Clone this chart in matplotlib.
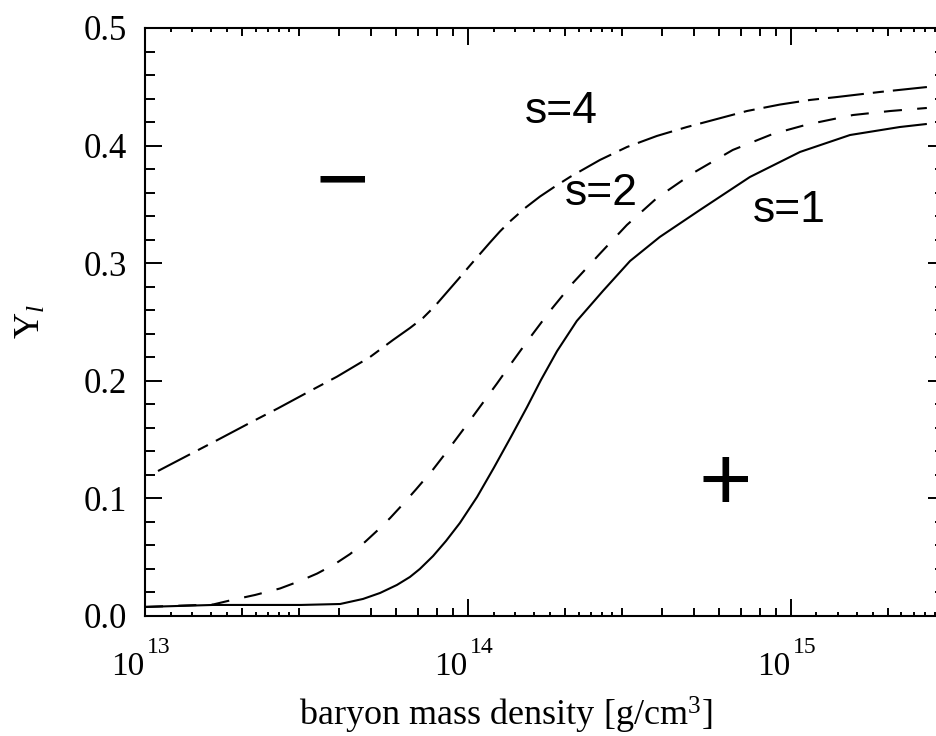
import matplotlib
matplotlib.use("Agg")
import matplotlib.pyplot as plt
from matplotlib.ticker import FixedLocator, NullFormatter, NullLocator
from matplotlib.transforms import blended_transform_factory, offset_copy

# ---------------- data ----------------
rho_s1 = [1.000e13, 1.626e13, 2.270e13, 3.041e13, 4.018e13, 4.732e13, 5.346e13,
          6.026e13, 6.613e13, 7.096e13, 7.798e13, 8.551e13, 9.441e13, 1.067e14,
          1.202e14, 1.358e14, 1.524e14, 1.683e14, 1.888e14, 2.173e14, 2.618e14,
          3.177e14, 3.926e14, 5.224e14, 7.464e14, 1.067e15, 1.524e15, 2.173e15,
          2.636e15]
Y_s1 = [0.0077, 0.0094, 0.0094, 0.0094, 0.0102, 0.0145, 0.0196,
        0.0264, 0.0332, 0.0400, 0.0510, 0.0638, 0.0791, 0.1012,
        0.1259, 0.1522, 0.1777, 0.2007, 0.2253, 0.2509, 0.2764,
        0.3019, 0.3223, 0.3452, 0.3733, 0.3946, 0.4090, 0.4158,
        0.4184]

rho_s2 = [1.000e13, 1.626e13, 1.858e13, 2.193e13, 2.618e13, 3.020e13, 3.412e13,
          3.873e13, 4.315e13, 4.797e13, 5.224e13, 5.741e13, 6.295e13, 6.902e13,
          7.798e13, 8.492e13, 9.247e13, 9.931e13, 1.074e14, 1.230e14, 1.368e14,
          1.524e14, 1.795e14, 2.113e14, 2.564e14, 3.105e14, 3.846e14, 4.977e14,
          6.607e14, 8.790e14, 1.122e15, 1.556e15, 2.028e15, 2.636e15]
Y_s2 = [0.0077, 0.0098, 0.0136, 0.0179, 0.0234, 0.0298, 0.0361,
        0.0442, 0.0527, 0.0629, 0.0723, 0.0833, 0.0952, 0.1076,
        0.1246, 0.1378, 0.1514, 0.1628, 0.1756, 0.1977, 0.2156,
        0.2334, 0.2594, 0.2832, 0.3082, 0.3325, 0.3554, 0.3767,
        0.3963, 0.4099, 0.4179, 0.4260, 0.4294, 0.4320]

rho_s4 = [1.097e13, 1.398e13, 1.683e13, 2.145e13, 2.581e13, 3.289e13, 3.930e13,
          4.973e13, 5.860e13, 6.613e13, 7.256e13, 7.904e13, 8.489e13, 9.312e13,
          1.014e14, 1.089e14, 1.170e14, 1.256e14, 1.349e14, 1.502e14, 1.671e14,
          1.859e14, 2.069e14, 2.563e14, 3.107e14, 3.846e14, 4.764e14, 5.900e14,
          7.307e14, 9.246e14, 1.145e15, 1.388e15, 1.886e15, 2.637e15]
Y_s4 = [0.1233, 0.1384, 0.1499, 0.1652, 0.1766, 0.1922, 0.2035,
        0.2202, 0.2347, 0.2449, 0.2534, 0.2636, 0.2734, 0.2861,
        0.2980, 0.3078, 0.3176, 0.3270, 0.3355, 0.3469, 0.3567,
        0.3652, 0.3733, 0.3878, 0.3988, 0.4082, 0.4158, 0.4226,
        0.4294, 0.4349, 0.4388, 0.4413, 0.4456, 0.4498]

curve_labels = ["s=1", "s=2", "s=4"]
x_major = [1e13, 1e14, 1e15]
x_major_exponents = ["13", "14", "15"]
y_major = [0.0, 0.1, 0.2, 0.3, 0.4, 0.5]
y_major_labels = ["0.0", "0.1", "0.2", "0.3", "0.4", "0.5"]
x_minor_mult = [2, 3, 4, 5, 6, 7, 8, 9]
x_sub_mult = [1.2, 1.4, 1.6, 1.8, 2.2, 2.4, 2.6, 2.8]
decades = [1e13, 1e14, 1e15]

# ---------------- style ----------------
plt.rcParams["lines.scale_dashes"] = False
plt.rcParams["font.family"] = ["Liberation Serif", "DejaVu Serif"]
plt.rcParams["mathtext.fontset"] = "custom"
plt.rcParams["mathtext.rm"] = "Liberation Serif"
plt.rcParams["mathtext.it"] = "Liberation Serif:italic"
plt.rcParams["mathtext.bf"] = "Liberation Serif:bold"

fig = plt.figure(figsize=(9.36, 7.36), dpi=100)
ax = fig.add_axes([145/936, 1-616/736, 800/936, 588/736])

lw = 1.5
ax.plot(rho_s1, Y_s1, color="black", lw=lw, solid_capstyle="butt", solid_joinstyle="round")
ax.plot(rho_s2, Y_s2, color="black", lw=lw, dashes=(13, 11), dash_capstyle="butt")
ax.plot(rho_s4, Y_s4, color="black", lw=lw, dashes=(26, 6.5, 8, 6.5), dash_capstyle="butt")

ax.set_xscale("log")
ax.set_xlim(1e13, 3e15)
ax.set_ylim(0, 0.5)

for s in ax.spines.values():
    s.set_linewidth(1.5)

ax.set_xticks(x_major, labels=["" for _ in x_major])
minor_pos = [d*m for d in decades for m in x_minor_mult]
ax.xaxis.set_minor_locator(FixedLocator(minor_pos))
ax.xaxis.set_minor_formatter(NullFormatter())
ax.set_yticks(y_major, labels=y_major_labels)
ax.yaxis.set_minor_locator(FixedLocator([i*0.02 for i in range(26)]))

ax.tick_params(which="both", direction="in", top=True, right=True, width=1.4)
ax.tick_params(axis="x", which="major", length=12.5, pad=15)
ax.tick_params(axis="y", which="major", length=12.5, pad=13, labelsize=25)
ax.tick_params(axis="x", which="minor", length=6)
ax.tick_params(axis="y", which="minor", length=7)

# x tick labels: "10" with a raised exponent
bt = blended_transform_factory(ax.transData, ax.transAxes)
for xv, ex in zip(x_major, x_major_exponents):
    ax.text(xv, (616-675)/588, "10", fontsize=24, ha="right", va="baseline",
            transform=offset_copy(bt, fig=fig, x=-1, y=0, units="dots"), clip_on=False)
    ax.text(xv, (616-653)/588, ex, fontsize=17, ha="left", va="baseline",
            transform=offset_copy(bt, fig=fig, x=2, y=0, units="dots"), clip_on=False)

# sub-minor ticks (bottom and top)
sub_pos = [d*m for d in decades for m in x_sub_mult]
for loc in ("bottom", "top"):
    sec = ax.secondary_xaxis(loc)
    sec.set_xticks(sub_pos)
    sec.xaxis.set_minor_locator(NullLocator())
    sec.tick_params(direction="in", length=3, width=1.4, labelbottom=False, labeltop=False)
    sec.spines[loc].set_visible(False)

ax.set_xlabel(r"baryon mass density [g/cm$^3$]", fontsize=26)
ax.xaxis.label.set_va("baseline")
ax.xaxis.set_label_coords(0.451, (616-726)/588)
ax.set_ylabel(r"Y$_{l}$", fontsize=26)
ax.yaxis.set_label_coords(-0.122, 0.5)

sans = ["Liberation Sans", "DejaVu Sans"]
ax.text(0.475, 0.838, curve_labels[2], transform=ax.transAxes, fontsize=32,
        family=sans, ha="left", va="baseline")
ax.text(0.525, 0.699, curve_labels[1], transform=ax.transAxes, fontsize=32,
        family=sans, ha="left", va="baseline")
ax.text(0.760, 0.670, curve_labels[0], transform=ax.transAxes, fontsize=32,
        family=sans, ha="left", va="baseline")
ax.text(0.246, 0.691, "\u2212", transform=ax.transAxes, fontsize=66,
        family=sans, ha="center", va="baseline")
ax.text(0.725, 0.180, "+", transform=ax.transAxes, fontsize=66,
        family=sans, ha="center", va="baseline")

fig.savefig("out.png", dpi=100)
